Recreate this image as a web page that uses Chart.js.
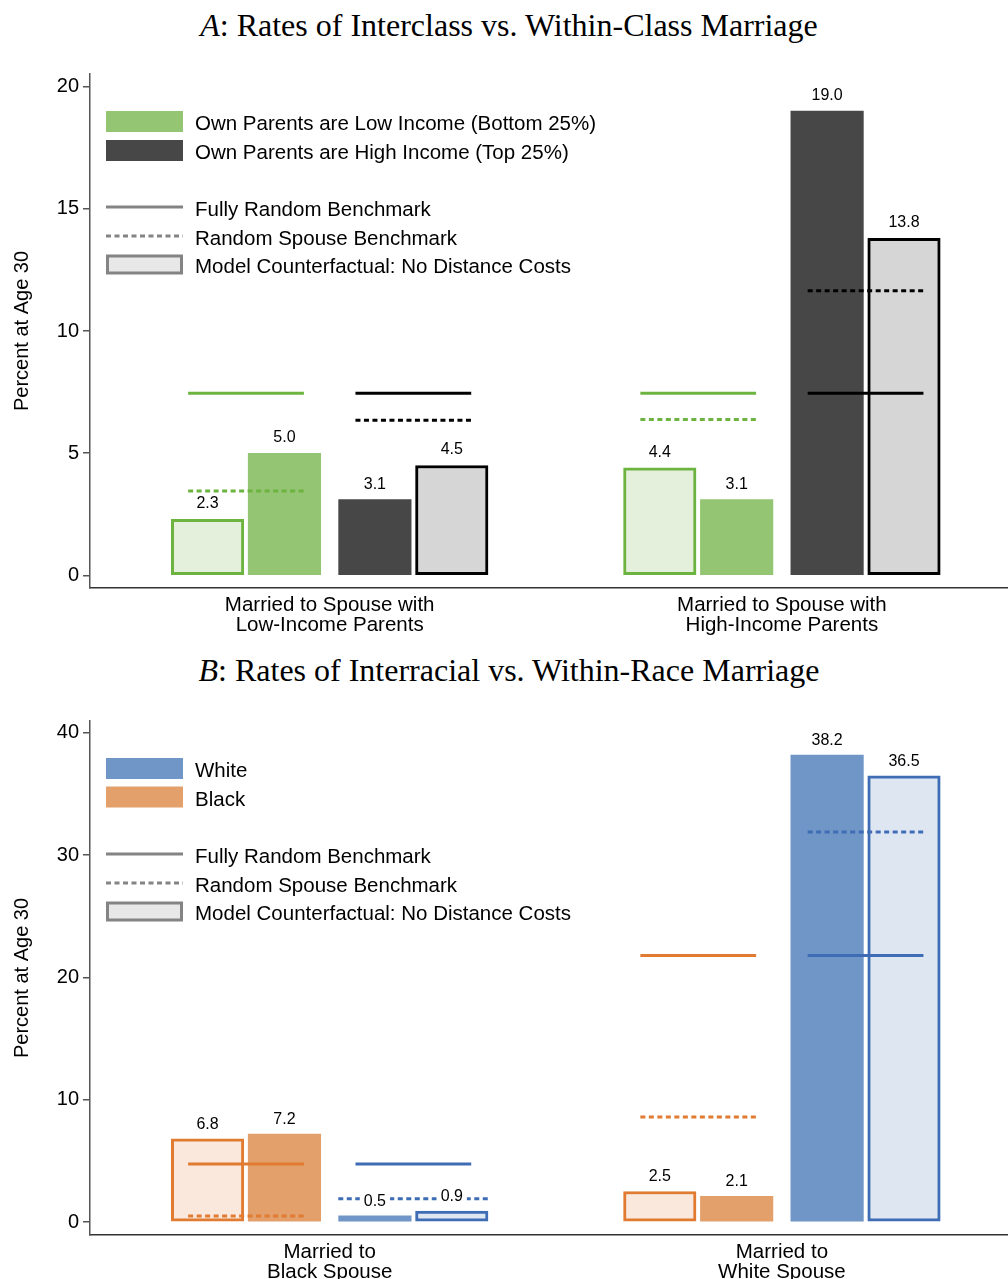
<!DOCTYPE html>
<html>
<head>
<meta charset="utf-8">
<script src="https://cdn.jsdelivr.net/npm/chart.js@4/dist/chart.umd.min.js"></script>
<style>
  html, body { margin: 0; padding: 0; background: #fff; }
  body { width: 1008px; height: 1279px; overflow: hidden; position: relative; }
  .title {
    position: absolute; left: 5px; width: 1008px; text-align: center;
    font-family: "Liberation Serif", "Times New Roman", serif; font-size: 32px; color: #000;
    line-height: 36px; white-space: nowrap;
  }
  .panel { position: absolute; left: 0; width: 1008px; height: 600px; }
</style>
</head>
<body>
<div class="title" style="top:7px"><i>A</i>: Rates of Interclass vs. Within-Class Marriage</div>
<div class="panel" style="top:45px"><canvas id="chartA"></canvas></div>
<div class="title" style="top:652px"><i>B</i>: Rates of Interracial vs. Within-Race Marriage</div>
<div class="panel" style="top:690px"><canvas id="chartB"></canvas></div>

<script>
// ---------- Panel A: interclass marriage (percent married at age 30) ----------
const categoriesA = [
  ['Married to Spouse with', 'Low-Income Parents'],
  ['Married to Spouse with', 'High-Income Parents']
];
const lowIncomeCounterfactual = [2.3, 4.4];
const lowIncomeObserved = [5.0, 3.1];
const highIncomeObserved = [3.1, 19.0];
const highIncomeCounterfactual = [4.5, 13.8];
const lowIncomeFullyRandom = [7.45, 7.45];
const lowIncomeRandomSpouse = [3.45, 6.38];
const highIncomeFullyRandom = [7.45, 7.45];
const highIncomeRandomSpouse = [6.35, 11.65];
const seriesLabelsA = ['Own Parents are Low Income (Bottom 25%)', 'Own Parents are High Income (Top 25%)'];
const yTicksA = [0, 5, 10, 15, 20];

// ---------- Panel B: interracial marriage (percent married at age 30) ----------
const categoriesB = [
  ['Married to', 'Black Spouse'],
  ['Married to', 'White Spouse']
];
const blackCounterfactual = [6.8, 2.5];
const blackObserved = [7.2, 2.1];
const whiteObserved = [0.5, 38.2];
const whiteCounterfactual = [0.9, 36.5];
const blackFullyRandom = [4.75, 21.8];
const blackRandomSpouse = [0.5, 8.6];
const whiteFullyRandom = [4.75, 21.8];
const whiteRandomSpouse = [1.9, 31.9];
const seriesLabelsB = ['White', 'Black'];
const yTicksB = [0, 10, 20, 30, 40];

const benchmarkLabels = ['Fully Random Benchmark', 'Random Spouse Benchmark', 'Model Counterfactual: No Distance Costs'];
const yTitle = 'Percent at Age 30';

// ---------- layout / styling ----------
const SANS = '"Liberation Sans", Arial, Helvetica, sans-serif';
const SLOT = [-0.27, -0.10, 0.10, 0.27];   // bar offsets inside a category
const PAIR = [-0.185, 0.185];              // centres of the two bar pairs
const HALF = 0.128;                        // half length of a benchmark segment
const BAR_PX = 72.5;
const DOT = [5, 3.5];

const C = {
  green: '#93c572', greenLine: '#6cb43f', greenLight: '#e5f0dc',
  dark: '#474747', grayLight: '#d6d6d6', black: '#000000',
  blue: '#7096c8', blueLine: '#3e6db5', blueLight: '#dee6f1',
  orange: '#e3a06a', orangeLine: '#e07b31', orangeLight: '#f9e8db',
  legendGray: '#848484', legendFill: '#e8e8e8'
};

function barDataset(values, slot, fill, border) {
  return {
    type: 'bar',
    data: values.map((v, g) => ({ x: g + SLOT[slot], y: v })),
    backgroundColor: fill,
    borderColor: border || fill,
    borderWidth: border ? 3 : 0,
    borderSkipped: false,
    grouped: false,
    barPercentage: 1,
    categoryPercentage: 1,
    maxBarThickness: BAR_PX,
    order: 1
  };
}

function lineDatasets(values, pair, color, dotted, halfOf) {
  return values.map((v, g) => {
    const c = g + PAIR[pair];
    const h = halfOf ? halfOf(g) : HALF;
    return {
      type: 'line',
      data: [{ x: c - h, y: v }, { x: c + h, y: v }],
      borderColor: color,
      borderWidth: 3,
      borderDash: dotted ? DOT : [],
      borderCapStyle: 'butt',
      pointRadius: 0,
      fill: false,
      order: 0
    };
  });
}

// legend drawn inside the plot area, rows measured from the top of the plot
function legendPlugin(entries) {
  return {
    id: 'panelLegend',
    afterDraw(chart) {
      const ctx = chart.ctx;
      const top = chart.chartArea.top;
      const x0 = 106, x1 = 183, tx = 195;
      ctx.save();
      entries.forEach(e => {
        const y = top + e.dy;
        if (e.kind === 'fill') {
          ctx.fillStyle = e.color;
          ctx.fillRect(x0, y - 10.5, x1 - x0, 21);
        } else if (e.kind === 'line') {
          ctx.strokeStyle = C.legendGray;
          ctx.lineWidth = 3;
          ctx.setLineDash(e.dotted ? DOT : []);
          ctx.beginPath();
          ctx.moveTo(x0, y);
          ctx.lineTo(x1, y);
          ctx.stroke();
          ctx.setLineDash([]);
        } else {
          ctx.fillStyle = C.legendGray;
          ctx.fillRect(x0, y - 10, x1 - x0, 20);
          ctx.fillStyle = C.legendFill;
          ctx.fillRect(x0 + 3, y - 7, x1 - x0 - 6, 14);
        }
        ctx.fillStyle = '#000';
        ctx.font = '20.5px ' + SANS;
        ctx.textAlign = 'left';
        ctx.textBaseline = 'middle';
        ctx.fillText(e.text, tx, y + 3);
      });
      ctx.restore();
    }
  };
}

// value printed above every bar, on a white patch
function valueLabelPlugin(gap) {
  return {
    id: 'valueLabels',
    afterDatasetsDraw(chart) {
      const ctx = chart.ctx;
      ctx.save();
      ctx.font = '16px ' + SANS;
      ctx.textAlign = 'center';
      ctx.textBaseline = 'middle';
      chart.data.datasets.forEach((ds, i) => {
        if (ds.type !== 'bar') return;
        chart.getDatasetMeta(i).data.forEach((el, j) => {
          const txt = ds.data[j].y.toFixed(1);
          const y = el.y - gap;
          const w = ctx.measureText(txt).width;
          ctx.fillStyle = '#fff';
          ctx.fillRect(el.x - w / 2 - 4, y - 8, w + 8, 16);
          ctx.fillStyle = '#000';
          ctx.fillText(txt, el.x, y);
        });
      });
      ctx.restore();
    }
  };
}

function makeChart(id, p) {
  new Chart(document.getElementById(id), {
    type: 'bar',
    data: { datasets: p.datasets },
    options: {
      responsive: true,
      maintainAspectRatio: false,
      animation: false,
      events: [],
      layout: { padding: { top: p.padTop, right: 0, left: 0, bottom: 0 } },
      plugins: { legend: { display: false }, tooltip: { enabled: false } },
      scales: {
        x: {
          type: 'linear',
          offset: false,
          bounds: 'data',
          min: -0.53,
          max: 1.5,
          grid: { display: false, drawTicks: false, offset: false },
          border: { display: true, color: '#333', width: 1.5 },
          afterBuildTicks: s => { s.ticks = [{ value: 0 }, { value: 1 }]; },
          afterFit: s => { s.height = p.xHeight; },
          ticks: {
            autoSkip: false,
            maxRotation: 0,
            padding: 7,
            color: '#000',
            font: { family: SANS, size: 20.5, lineHeight: 1.0 },
            callback: (v, i) => p.categories[i]
          }
        },
        y: {
          type: 'linear',
          min: p.yMin,
          max: p.yMax,
          grid: { drawOnChartArea: false, drawTicks: true, tickLength: 7, color: '#555', lineWidth: 1.5 },
          border: { display: true, color: '#555', width: 1.5 },
          afterBuildTicks: s => { s.ticks = p.yTicks.map(v => ({ value: v })); },
          afterFit: s => { s.width = 90; },
          ticks: { padding: 4, color: '#000', font: { family: SANS, size: 20 } },
          title: {
            display: true, text: yTitle, color: '#000',
            font: { family: SANS, size: 20, lineHeight: 1.2 },
            padding: { top: 10, bottom: 0 }
          }
        }
      }
    },
    plugins: [legendPlugin(p.legend), valueLabelPlugin(p.labelGap)]
  });
}

makeChart('chartA', {
  categories: categoriesA,
  yMin: -0.515, yMax: 20.52, yTicks: yTicksA,
  padTop: 29, xHeight: 57, labelGap: 15.5,
  datasets: [
    barDataset(lowIncomeCounterfactual, 0, C.greenLight, C.greenLine),
    barDataset(lowIncomeObserved, 1, C.green),
    barDataset(highIncomeObserved, 2, C.dark),
    barDataset(highIncomeCounterfactual, 3, C.grayLight, C.black),
    ...lineDatasets(lowIncomeFullyRandom, 0, C.greenLine, false),
    ...lineDatasets(lowIncomeRandomSpouse, 0, C.greenLine, true),
    ...lineDatasets(highIncomeFullyRandom, 1, C.black, false),
    ...lineDatasets(highIncomeRandomSpouse, 1, C.black, true)
  ],
  legend: [
    { kind: 'fill', color: C.green, text: seriesLabelsA[0], dy: 47.5 },
    { kind: 'fill', color: C.dark, text: seriesLabelsA[1], dy: 76.5 },
    { kind: 'line', dotted: false, text: benchmarkLabels[0], dy: 133 },
    { kind: 'line', dotted: true, text: benchmarkLabels[1], dy: 162 },
    { kind: 'box', text: benchmarkLabels[2], dy: 190.5 }
  ]
});

makeChart('chartB', {
  categories: categoriesB,
  yMin: -1.06, yMax: 40.98, yTicks: yTicksB,
  padTop: 31, xHeight: 55, labelGap: 14.5,
  datasets: [
    barDataset(blackCounterfactual, 0, C.orangeLight, C.orangeLine),
    barDataset(blackObserved, 1, C.orange),
    barDataset(whiteObserved, 2, C.blue),
    barDataset(whiteCounterfactual, 3, C.blueLight, C.blueLine),
    ...lineDatasets(blackFullyRandom, 0, C.orangeLine, false),
    ...lineDatasets(blackRandomSpouse, 0, C.orangeLine, true),
    ...lineDatasets(whiteFullyRandom, 1, C.blueLine, false),
    // the low white random-spouse segment runs across the full width of its pair
    ...lineDatasets(whiteRandomSpouse, 1, C.blueLine, true, g => (g === 0 ? 0.166 : HALF))
  ],
  legend: [
    { kind: 'fill', color: C.blue, text: seriesLabelsB[0], dy: 47.5 },
    { kind: 'fill', color: C.orange, text: seriesLabelsB[1], dy: 76 },
    { kind: 'line', dotted: false, text: benchmarkLabels[0], dy: 133 },
    { kind: 'line', dotted: true, text: benchmarkLabels[1], dy: 162 },
    { kind: 'box', text: benchmarkLabels[2], dy: 190.5 }
  ]
});
</script>
</body>
</html>
